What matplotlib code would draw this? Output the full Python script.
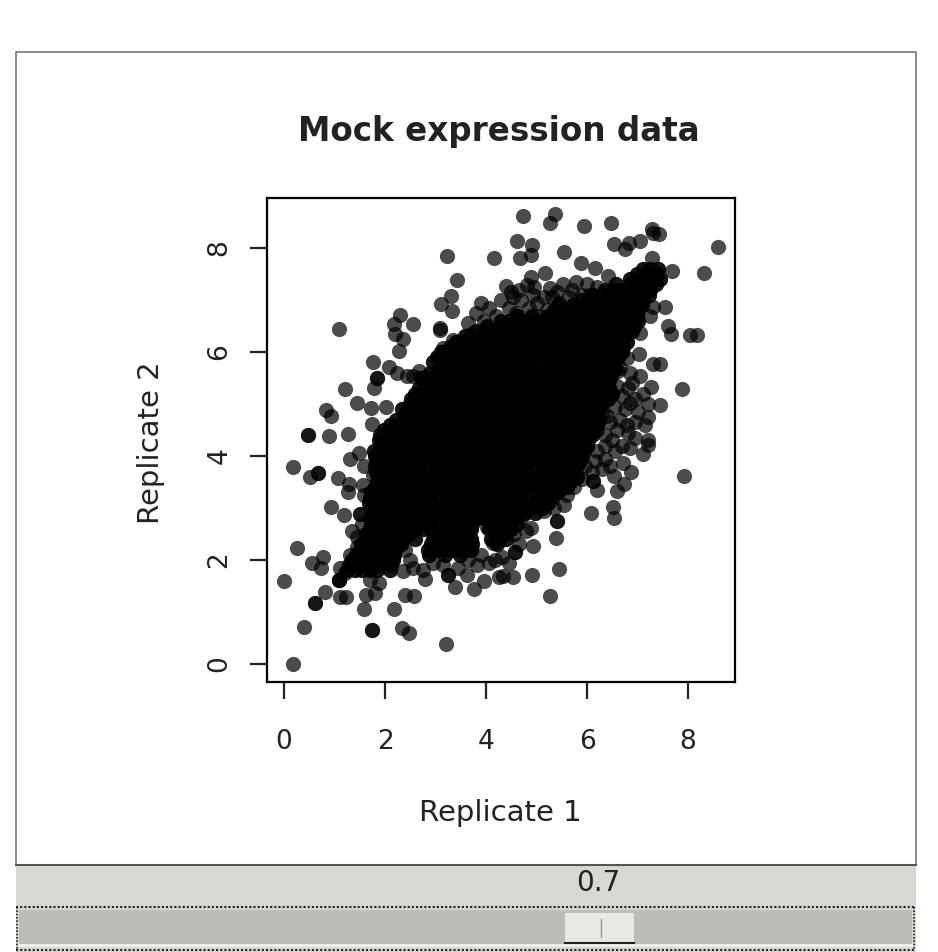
"""Mock expression data scatter with the slider panel below it."""

import matplotlib

matplotlib.use("Agg")
import matplotlib.pyplot as plt
import numpy as np
from matplotlib.patches import Rectangle

W, H = 938, 952

TITLE = "Mock expression data"
X_LABEL = "Replicate 1"
Y_LABEL = "Replicate 2"
SLIDER_VALUE = "0.7"
TICKS = [0, 2, 4, 6, 8]

# points, outside the solid core
outer_x = [
    1.08, 3.22, 4.16, 3.42, 3.30, 3.11, 3.32, 2.30, 2.18, 2.55, 2.20, 2.36, 2.28, 3.09, 3.09,
    3.34, 1.76, 2.07, 1.84, 1.84, 1.79, 2.23, 2.43, 2.56, 2.68, 2.89, 3.09, 3.15, 3.09, 1.21,
    1.44, 1.72, 2.02, 0.83, 0.93, 2.46, 1.75, 0.48, 0.48, 0.90, 1.26,
    4.73, 5.37, 5.27, 5.94, 6.48, 7.28, 7.43, 7.31, 4.61, 4.92, 4.90, 4.67, 5.55, 6.53, 6.75,
    6.84, 7.04, 8.59, 8.32, 7.68, 7.29, 5.89, 6.16, 6.41, 5.17, 4.90, 5.78, 5.53, 4.40, 4.81,
    5.27, 4.53, 4.94, 5.30, 6.06, 7.54, 7.31, 7.25, 7.60, 7.66, 8.04, 8.18, 6.62, 7.05, 7.02,
    6.79, 7.31, 7.45, 6.62, 7.05, 6.82, 7.27, 7.89, 7.45, 6.85, 7.21, 6.65, 6.39, 6.95, 6.82,
    6.19, 5.93, 7.21,
    0.18, 0.68, 0.68, 0.51, 1.06, 1.31, 1.49, 1.58, 1.77, 1.29, 1.27, 1.56, 1.59, 0.94, 1.19,
    1.50, 1.50, 1.44, 0.25, 0.77, 0.55, 0.73, 0.00, 1.09, 1.09, 1.09, 1.70, 2.36, 2.79, 2.76,
    3.25, 3.25, 3.39, 3.62, 3.82, 3.76, 3.96, 4.26, 0.81, 0.61, 0.61, 1.11, 1.23, 1.62, 1.80,
    1.89, 1.58, 2.40, 2.57, 2.18, 0.40, 1.74, 1.74, 2.33, 2.48, 3.20, 0.17, 4.01, 4.14, 4.18,
    7.93, 7.10, 7.21, 6.88, 6.72, 6.53, 6.73, 6.60, 6.19, 6.11, 6.11, 6.07, 6.51, 6.53, 5.41,
    5.41, 5.39, 5.45, 5.27, 4.92, 4.54, 4.34, 4.57, 4.57, 4.94, 4.90, 5.15, 5.40, 4.38, 4.31,
    5.70,
]
outer_y = [
    6.44, 7.85, 7.80, 7.38, 7.08, 6.92, 6.78, 6.72, 6.53, 6.53, 6.35, 6.24, 6.01, 6.47, 6.42,
    6.23, 5.81, 5.72, 5.49, 5.49, 5.30, 5.60, 5.54, 5.53, 5.64, 5.49, 5.91, 6.07, 5.62, 5.29,
    5.01, 4.93, 4.94, 4.88, 4.76, 4.95, 4.61, 4.40, 4.40, 4.38, 4.42,
    8.62, 8.65, 8.47, 8.43, 8.47, 8.36, 8.27, 8.28, 8.13, 8.06, 7.87, 7.80, 7.93, 8.07, 7.98,
    8.09, 8.13, 8.01, 7.51, 7.55, 7.81, 7.71, 7.62, 7.46, 7.51, 7.44, 7.35, 7.30, 7.27, 7.29,
    7.22, 7.06, 7.10, 7.06, 7.10, 6.86, 6.87, 6.69, 6.50, 6.35, 6.33, 6.33, 6.15, 6.36, 5.97,
    5.88, 5.76, 5.76, 5.63, 5.54, 5.30, 5.33, 5.29, 4.98, 5.01, 4.74, 4.69, 4.76, 4.66, 4.44,
    4.50, 4.53, 4.31,
    3.78, 3.68, 3.68, 3.60, 3.58, 3.95, 4.06, 3.81, 3.63, 3.47, 3.31, 3.44, 3.25, 3.01, 2.87,
    2.88, 2.88, 2.44, 2.24, 2.06, 1.94, 1.84, 1.60, 1.62, 1.62, 1.62, 1.62, 1.78, 1.63, 1.80,
    1.71, 1.71, 1.49, 1.71, 1.90, 1.44, 1.60, 1.68, 1.39, 1.17, 1.17, 1.29, 1.29, 1.33, 1.36,
    1.55, 1.05, 1.33, 1.31, 1.06, 0.72, 0.65, 0.65, 0.69, 0.60, 0.38, 0.00, 2.64, 2.32, 2.00,
    3.62, 4.04, 4.21, 3.69, 3.86, 3.62, 3.47, 3.33, 3.35, 3.51, 3.51, 2.90, 3.01, 2.80, 2.74,
    2.74, 2.42, 1.82, 1.31, 1.72, 1.68, 1.69, 2.16, 2.16, 2.27, 2.61, 2.95, 3.31, 2.53, 2.06,
    3.60,
]

# crowded clusters around the core, top band first, then right, bottom and left
ring_x = [
    3.65, 3.80, 3.70, 3.95, 4.05, 3.90, 4.20, 4.30, 4.45, 4.60, 4.70, 4.85, 5.00, 5.05, 5.20,
    5.15, 4.50, 4.65, 4.95, 5.40, 5.45, 5.65, 5.70, 5.90, 6.00, 6.20, 6.30,
    6.45, 6.60, 6.50, 6.70, 6.55, 6.75, 6.95, 7.10, 6.30, 6.45, 6.60, 6.80, 7.00, 7.15, 6.35,
    6.50, 6.95, 7.20, 6.90, 6.65, 6.85, 6.40,
    6.00, 6.20, 6.35, 6.15, 6.35, 6.55, 6.70, 5.95, 6.10, 6.30, 6.85, 6.45, 5.90, 5.75, 5.60,
    5.55, 5.35,
    2.50, 2.40, 2.55, 2.95, 3.15, 3.45, 3.65, 3.90, 4.05, 4.45, 4.65, 4.80, 4.55, 4.70,
    1.35, 1.55, 1.45, 1.30, 1.10, 1.20,
]
ring_y = [
    6.55, 6.75, 6.35, 6.60, 6.85, 6.95, 6.70, 7.00, 6.85, 6.75, 7.00, 6.85, 6.95, 6.70, 6.80,
    7.05, 7.15, 7.20, 7.25, 7.15, 6.95, 7.05, 7.20, 7.10, 7.30, 7.25, 7.05,
    5.55, 5.35, 5.20, 5.15, 4.95, 4.90, 5.10, 5.20, 4.85, 4.65, 4.50, 4.60, 4.85, 4.60, 4.40,
    4.30, 4.35, 5.00, 5.40, 5.70, 5.60, 5.75,
    4.20, 4.10, 4.20, 3.90, 3.95, 4.10, 4.20, 3.80, 3.70, 3.75, 4.15, 3.80, 3.55, 3.40, 3.25,
    3.05, 3.00,
    2.00, 2.20, 1.85, 1.95, 1.90, 1.85, 2.00, 2.10, 1.95, 1.95, 2.30, 2.55, 2.50, 2.80,
    2.55, 2.70, 2.25, 2.10, 1.85, 1.75,
]

# solid black core: single points cannot be told apart here, so these are
# estimated from its outline, one row of x values for each y value
core_y = [7.6, 7.4, 7.2, 7.0, 6.8, 6.6, 6.4, 6.2, 6.0, 5.8, 5.6, 5.4, 5.2, 5.0, 4.8,
          4.6, 4.4, 4.2, 4.0, 3.8, 3.6, 3.4, 3.2, 3.0, 2.8, 2.6, 2.4, 2.2, 2.0, 1.8]
core_x = [
    [7.10, 7.25, 7.40],
    [6.85, 7.00, 7.15, 7.30, 7.45],
    [6.35, 6.50, 6.65, 6.80, 6.95, 7.10, 7.25],
    [5.90, 6.05, 6.20, 6.35, 6.50, 6.65, 6.80, 6.95, 7.10],
    [5.35, 5.50, 5.65, 5.80, 5.95, 6.10, 6.25, 6.40, 6.55, 6.70, 6.85, 7.00],
    [4.30, 4.45, 4.60, 4.75, 4.90, 5.05, 5.20, 5.35, 5.50, 5.65, 5.80, 5.95, 6.10, 6.25, 6.40,
     6.55, 6.70, 6.85, 7.00],
    [3.80, 3.95, 4.10, 4.25, 4.40, 4.55, 4.70, 4.85, 5.00, 5.15, 5.30, 5.45, 5.60, 5.75, 5.90,
     6.05, 6.20, 6.35, 6.50, 6.65, 6.80, 6.90],
    [3.40, 3.55, 3.70, 3.85, 4.00, 4.15, 4.30, 4.45, 4.60, 4.75, 4.90, 5.05, 5.20, 5.35, 5.50,
     5.65, 5.80, 5.95, 6.10, 6.25, 6.40, 6.55, 6.70, 6.80],
    [3.10, 3.25, 3.40, 3.55, 3.70, 3.85, 4.00, 4.15, 4.30, 4.45, 4.60, 4.75, 4.90, 5.05, 5.20,
     5.35, 5.50, 5.65, 5.80, 5.95, 6.10, 6.25, 6.40, 6.55, 6.70],
    [2.95, 3.10, 3.25, 3.40, 3.55, 3.70, 3.85, 4.00, 4.15, 4.30, 4.45, 4.60, 4.75, 4.90, 5.05,
     5.20, 5.35, 5.50, 5.65, 5.80, 5.95, 6.10, 6.25, 6.40, 6.50],
    [2.90, 3.05, 3.20, 3.35, 3.50, 3.65, 3.80, 3.95, 4.10, 4.25, 4.40, 4.55, 4.70, 4.85, 5.00,
     5.15, 5.30, 5.45, 5.60, 5.75, 5.90, 6.05, 6.20, 6.35, 6.50],
    [2.80, 2.95, 3.10, 3.25, 3.40, 3.55, 3.70, 3.85, 4.00, 4.15, 4.30, 4.45, 4.60, 4.75, 4.90,
     5.05, 5.20, 5.35, 5.50, 5.65, 5.80, 5.95, 6.10, 6.25, 6.40],
    [2.60, 2.75, 2.90, 3.05, 3.20, 3.35, 3.50, 3.65, 3.80, 3.95, 4.10, 4.25, 4.40, 4.55, 4.70,
     4.85, 5.00, 5.15, 5.30, 5.45, 5.60, 5.75, 5.90, 6.05, 6.20, 6.35, 6.50],
    [2.50, 2.65, 2.80, 2.95, 3.10, 3.25, 3.40, 3.55, 3.70, 3.85, 4.00, 4.15, 4.30, 4.45, 4.60,
     4.75, 4.90, 5.05, 5.20, 5.35, 5.50, 5.65, 5.80, 5.95, 6.10, 6.30],
    [2.40, 2.55, 2.70, 2.85, 3.00, 3.15, 3.30, 3.45, 3.60, 3.75, 3.90, 4.05, 4.20, 4.35, 4.50,
     4.65, 4.80, 4.95, 5.10, 5.25, 5.40, 5.55, 5.70, 5.85, 6.00, 6.20],
    [2.10, 2.25, 2.40, 2.55, 2.70, 2.85, 3.00, 3.15, 3.30, 3.45, 3.60, 3.75, 3.90, 4.05, 4.20,
     4.35, 4.50, 4.65, 4.80, 4.95, 5.10, 5.25, 5.40, 5.55, 5.70, 5.85, 6.00, 6.20],
    [1.90, 2.05, 2.20, 2.35, 2.50, 2.65, 2.80, 2.95, 3.10, 3.25, 3.40, 3.55, 3.70, 3.85, 4.00,
     4.15, 4.30, 4.45, 4.60, 4.75, 4.90, 5.05, 5.20, 5.35, 5.50, 5.65, 5.80, 5.95, 6.10],
    [1.90, 2.05, 2.20, 2.35, 2.50, 2.65, 2.80, 2.95, 3.10, 3.25, 3.40, 3.55, 3.70, 3.85, 4.00,
     4.15, 4.30, 4.45, 4.60, 4.75, 4.90, 5.05, 5.20, 5.35, 5.50, 5.65, 5.80, 6.00],
    [1.80, 1.95, 2.10, 2.25, 2.40, 2.55, 2.70, 2.85, 3.00, 3.15, 3.30, 3.45, 3.60, 3.75, 3.90,
     4.05, 4.20, 4.35, 4.50, 4.65, 4.80, 4.95, 5.10, 5.25, 5.40, 5.55, 5.70, 5.90],
    [1.80, 1.95, 2.10, 2.25, 2.40, 2.55, 2.70, 2.85, 3.00, 3.15, 3.30, 3.45, 3.60, 3.75, 3.90,
     4.05, 4.20, 4.35, 4.50, 4.65, 4.80, 4.95, 5.10, 5.25, 5.40, 5.55, 5.70, 5.80],
    [1.90, 2.05, 2.20, 2.35, 2.50, 2.65, 2.80, 2.95, 3.10, 3.25, 3.40, 3.55, 3.70, 3.85, 4.00,
     4.15, 4.30, 4.45, 4.60, 4.75, 4.90, 5.05, 5.20, 5.35, 5.50, 5.65, 5.80],
    [1.80, 1.95, 2.10, 2.25, 2.40, 2.55, 2.70, 2.85, 3.00, 3.15, 3.30, 3.45, 3.60, 3.75, 3.90,
     4.05, 4.20, 4.35, 4.50, 4.65, 4.80, 4.95, 5.10, 5.25, 5.40, 5.60],
    [1.70, 1.85, 2.00, 2.15, 2.30, 2.45, 2.60, 2.75, 2.90, 3.05, 3.20, 3.35, 3.50, 3.65, 3.80,
     3.95, 4.10, 4.25, 4.40, 4.55, 4.70, 4.85, 5.00, 5.15, 5.30],
    [1.75, 1.90, 2.05, 2.20, 2.35, 2.50, 2.65, 2.80, 2.95, 3.10, 3.25, 3.40, 3.55, 3.70, 3.85,
     4.00, 4.15, 4.30, 4.45, 4.60, 4.75, 4.90, 5.10],
    [1.70, 1.85, 2.00, 2.15, 2.30, 2.45, 2.60, 2.75, 2.90, 3.05, 3.20, 3.35, 3.50, 3.65, 3.80,
     3.95, 4.10, 4.25, 4.40, 4.60],
    [1.70, 1.85, 2.00, 2.15, 2.30, 2.45, 2.60, 2.75, 2.90, 3.05, 3.20, 3.35, 3.50, 3.70, 4.05,
     4.20, 4.35, 4.50],
    [1.60, 1.75, 1.90, 2.05, 2.20, 2.35, 2.60, 2.95, 3.10, 3.25, 3.40, 3.55, 3.70, 4.10, 4.25,
     4.40],
    [1.50, 1.65, 1.80, 1.95, 2.10, 2.20, 2.85, 3.00, 3.15, 3.30, 3.45, 3.60, 3.70],
    [1.35, 1.50, 1.65, 1.80, 1.95, 2.15],
    [1.25, 1.40, 1.55, 1.70, 1.85, 2.10],
]

# second estimated set between those rows, with uneven ends to rough up the edge
fill_y = [7.5, 7.3, 7.1, 6.9, 6.7, 6.5, 6.3, 6.1, 5.9, 5.7, 5.5, 5.3, 5.1, 4.9, 4.7, 4.5,
          4.3, 4.1, 3.9, 3.7, 3.5, 3.3, 3.1, 2.9, 2.7, 2.5, 2.3, 2.1, 1.9]
fill_x = [
    [6.98, 7.18, 7.38],
    [6.58, 6.88, 7.12, 7.36],
    [6.12, 6.42, 6.72, 7.02, 7.22],
    [5.42, 5.72, 6.02, 6.32, 6.62, 6.92, 7.08],
    [4.62, 4.92, 5.22, 5.52, 5.82, 6.12, 6.42, 6.72, 6.98],
    [4.02, 4.32, 4.62, 4.92, 5.22, 5.52, 5.82, 6.12, 6.42, 6.72, 6.93],
    [3.58, 3.82, 4.12, 4.42, 4.72, 5.02, 5.32, 5.62, 5.92, 6.22, 6.52, 6.78],
    [3.28, 3.52, 3.82, 4.12, 4.42, 4.72, 5.02, 5.32, 5.62, 5.92, 6.22, 6.52, 6.72],
    [3.02, 3.32, 3.62, 3.92, 4.22, 4.52, 4.82, 5.12, 5.42, 5.72, 6.02, 6.32, 6.62],
    [3.08, 3.38, 3.68, 3.98, 4.28, 4.58, 4.88, 5.18, 5.48, 5.78, 6.08, 6.38, 6.56],
    [2.72, 3.02, 3.32, 3.62, 3.92, 4.22, 4.52, 4.82, 5.12, 5.42, 5.72, 6.02, 6.32, 6.46],
    [2.68, 2.98, 3.28, 3.58, 3.88, 4.18, 4.48, 4.78, 5.08, 5.38, 5.68, 5.98, 6.28, 6.44],
    [2.52, 2.82, 3.12, 3.42, 3.72, 4.02, 4.32, 4.62, 4.92, 5.22, 5.52, 5.82, 6.12, 6.42],
    [2.33, 2.62, 2.92, 3.22, 3.52, 3.82, 4.12, 4.42, 4.72, 5.02, 5.32, 5.62, 5.92, 6.22],
    [2.22, 2.48, 2.78, 3.08, 3.38, 3.68, 3.98, 4.28, 4.58, 4.88, 5.18, 5.48, 5.78, 6.08, 6.24],
    [1.98, 2.28, 2.58, 2.88, 3.18, 3.48, 3.78, 4.08, 4.38, 4.68, 4.98, 5.28, 5.58, 5.88, 6.14],
    [1.88, 2.12, 2.42, 2.72, 3.02, 3.32, 3.62, 3.92, 4.22, 4.52, 4.82, 5.12, 5.42, 5.72, 6.02],
    [1.78, 2.08, 2.38, 2.68, 2.98, 3.28, 3.58, 3.88, 4.18, 4.48, 4.78, 5.08, 5.38, 5.68, 5.94],
    [1.86, 2.16, 2.46, 2.76, 3.06, 3.36, 3.66, 3.96, 4.26, 4.56, 4.86, 5.16, 5.46, 5.76, 5.86],
    [1.82, 2.12, 2.42, 2.72, 3.02, 3.32, 3.62, 3.92, 4.22, 4.52, 4.82, 5.12, 5.42, 5.72],
    [1.84, 2.02, 2.32, 2.62, 2.92, 3.22, 3.52, 3.82, 4.12, 4.42, 4.72, 5.02, 5.32, 5.66],
    [1.72, 2.02, 2.32, 2.62, 2.92, 3.22, 3.52, 3.82, 4.12, 4.42, 4.72, 5.02, 5.42],
    [1.68, 1.98, 2.28, 2.58, 2.88, 3.18, 3.48, 3.78, 4.08, 4.38, 4.68, 4.98, 5.22],
    [1.78, 2.08, 2.38, 2.68, 2.98, 3.28, 3.58, 3.88, 4.18, 4.48, 4.78, 4.96],
    [1.72, 2.02, 2.32, 2.62, 2.92, 3.22, 3.52, 3.72, 4.12, 4.42, 4.62],
    [1.62, 1.92, 2.22, 2.48, 2.98, 3.28, 3.58, 4.18, 4.36],
    [1.52, 1.82, 2.12, 2.32, 2.92, 3.22, 3.52, 3.72, 4.22],
    [1.42, 1.72, 2.02, 2.18, 2.88, 3.18, 3.48],
    [1.28, 1.58, 1.88, 2.12],
]


def main():
    fig = plt.figure(figsize=(W / 100, H / 100), dpi=100, facecolor="white")

    # window chrome, laid out in pixels of the screenshot
    chrome = fig.add_axes([0, 0, 1, 1])
    chrome.set_xlim(0, W)
    chrome.set_ylim(H, 0)
    chrome.axis("off")
    chrome.plot([16, 16, 916, 916], [865, 52, 52, 865], color="#777777", lw=1.2)
    chrome.add_patch(Rectangle((16, 865), 900, 87, fc="#d8d7d2", ec="none"))
    chrome.plot([16, 916], [865, 865], color="#555555", lw=1.5)
    chrome.add_patch(Rectangle((19, 910), 893, 35, fc="#bdbcb6", ec="none"))
    chrome.plot([19, 912], [945, 945], color="#f2f1ee", lw=2)
    for y in (907, 950):
        chrome.plot([16, 916], [y, y], color="#222222", lw=1.5, ls=(0, (1, 1)))
    for x in (17, 914):
        chrome.plot([x, x], [907, 950], color="#222222", lw=1.2, ls=(0, (1, 1)))
    chrome.add_patch(Rectangle((565, 913), 69, 29, fc="#e9e8e3", ec="none"))
    chrome.plot([565, 634], [943, 943], color="#222222", lw=1.5)
    chrome.plot([601, 601], [919, 937], color="#999999", lw=1)
    chrome.text(598, 883, SLIDER_VALUE, fontsize=20, ha="center", va="center", color="#222222")

    left, right, top, bottom = 267, 735, 198, 682
    ax = fig.add_axes([left / W, 1 - bottom / H, (right - left) / W, (bottom - top) / H])

    # the core is many points deep in the picture, so its rows are drawn twice
    core_flat_x = np.concatenate(core_x + fill_x)
    core_flat_y = np.concatenate([
        np.repeat(core_y, [len(r) for r in core_x]),
        np.repeat(fill_y, [len(r) for r in fill_x]),
    ])
    x = np.concatenate([outer_x, ring_x, core_flat_x, core_flat_x])
    y = np.concatenate([outer_y, ring_y, core_flat_y, core_flat_y])
    ax.scatter(x, y, s=120, c="black", alpha=0.7, linewidths=0)

    ax.set_xlim(-0.337, 8.93)
    ax.set_ylim(-0.346, 8.96)
    ax.set_xticks(TICKS)
    ax.set_yticks(TICKS)
    ax.tick_params(length=12, width=1.6, labelsize=19, color="#222222", labelcolor="#222222")
    ax.tick_params(axis="x", pad=22)
    ax.tick_params(axis="y", pad=13)
    plt.setp(ax.get_yticklabels(), rotation=90, va="center")
    for spine in ax.spines.values():
        spine.set_linewidth(1.6)

    fig.text(499 / W, 1 - 131 / H, TITLE, fontsize=23.5, fontweight="bold", ha="center", va="center",
             color="#222222")
    fig.text(500 / W, 1 - 813 / H, X_LABEL, fontsize=21, ha="center", va="center", color="#222222")
    fig.text(151 / W, 1 - 443 / H, Y_LABEL, fontsize=21, rotation=90, ha="center", va="center",
             color="#222222")

    fig.savefig("out.png", dpi=100)
    plt.close(fig)


if __name__ == "__main__":
    main()
